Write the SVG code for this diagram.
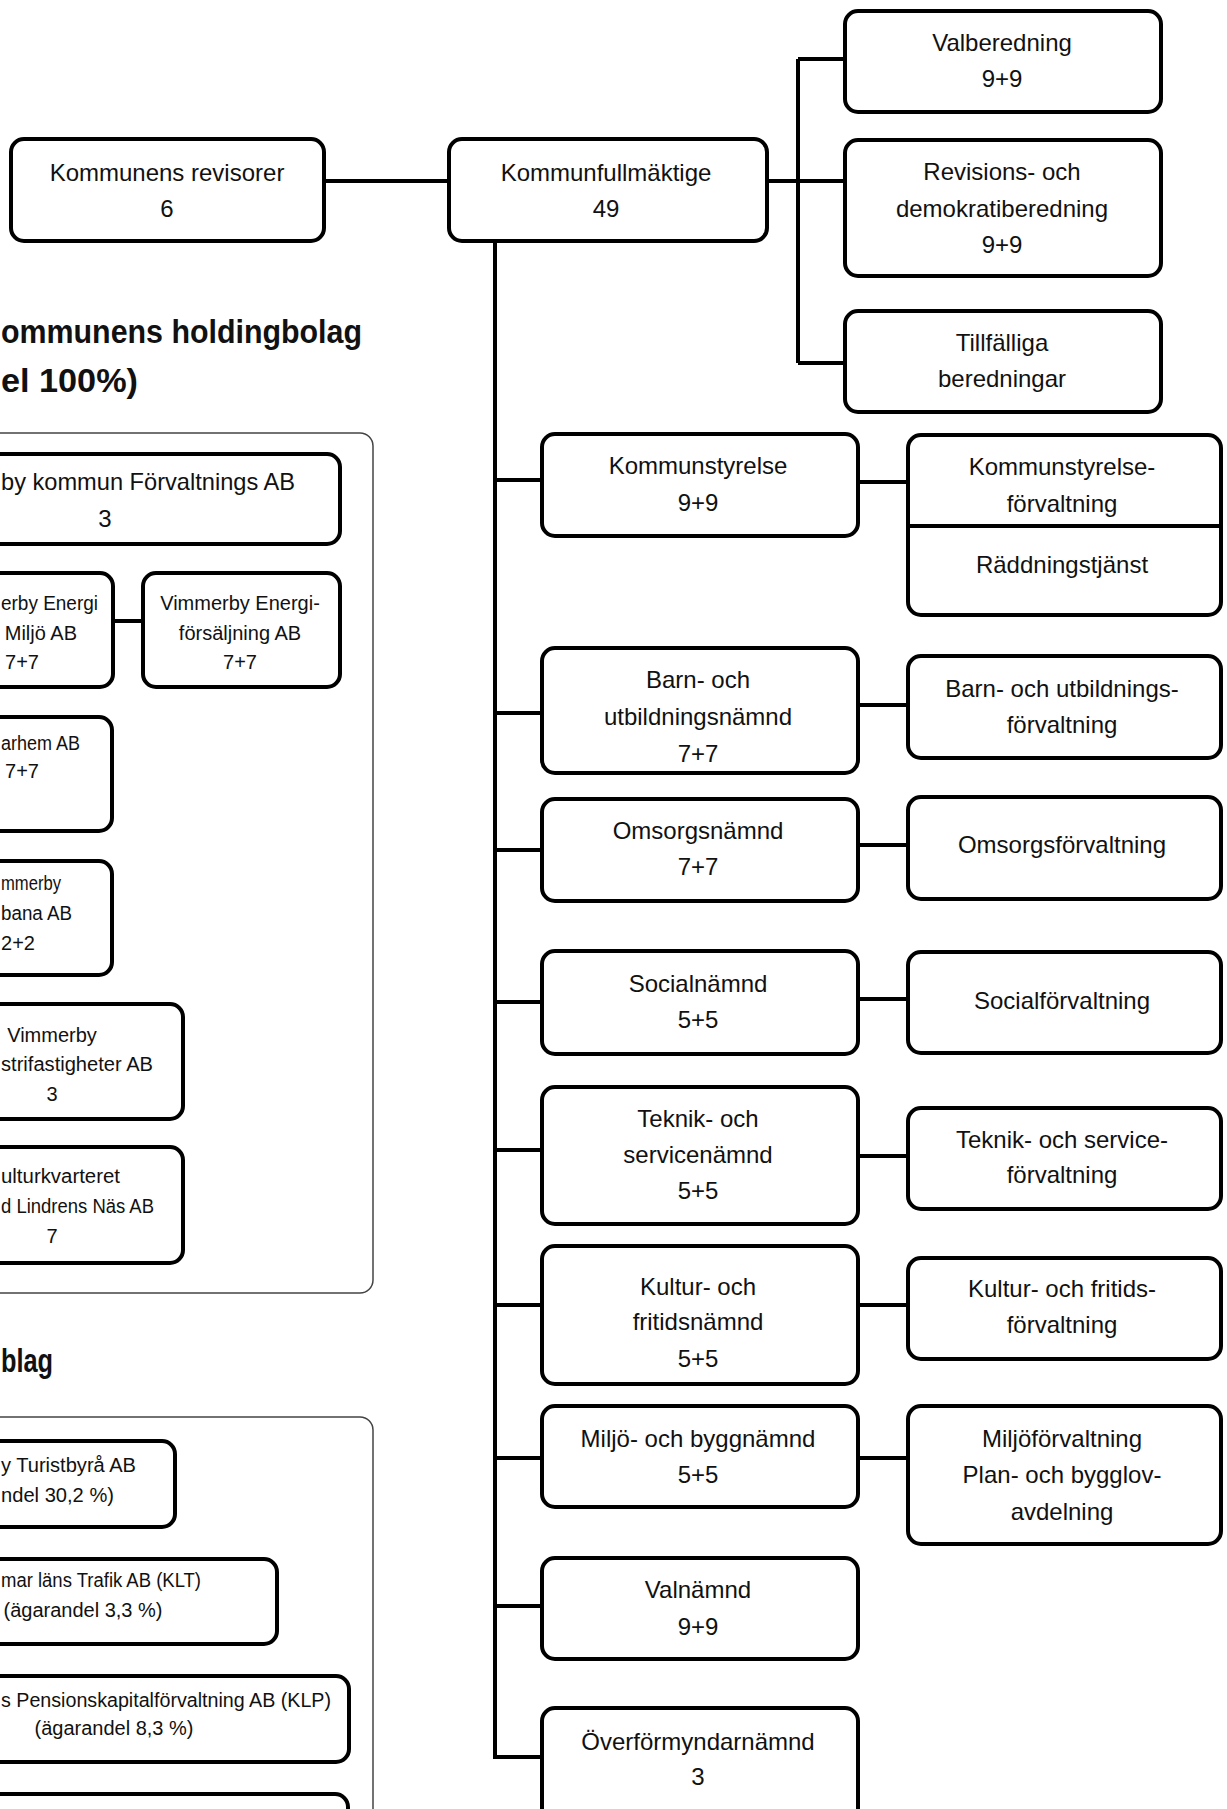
<svg xmlns="http://www.w3.org/2000/svg" width="1227" height="1809" viewBox="0 0 1227 1809">
<style>
.n{fill:#fff;stroke:#000;stroke-width:4}
.c{fill:#fff;stroke:#444;stroke-width:1.5}
.l{fill:none;stroke:#000;stroke-width:4}
text{font-family:"Liberation Sans",Arial,sans-serif;font-size:24px;text-anchor:middle;fill:#111}
.s{font-size:20px}
.e{text-anchor:end}
.b{text-anchor:start}
.h{font-weight:bold;font-size:34px;text-anchor:start}
</style>
<rect width="1227" height="1809" fill="#fff"/>

<!-- containers -->
<g id="holding-container">
<rect class="c" x="-30" y="433" width="403" height="860" rx="13"/>
<text class="h" x="1" y="343" textLength="361" lengthAdjust="spacingAndGlyphs">ommunens holdingbolag</text>
<text class="h" x="1" y="392" textLength="137" lengthAdjust="spacingAndGlyphs">el 100%)</text>
</g>
<g id="delagda-container">
<rect class="c" x="-30" y="1417" width="403" height="450" rx="13"/>
<text class="h" x="1" y="1372" textLength="52" lengthAdjust="spacingAndGlyphs">blag</text>
</g>

<!-- connectors -->
<g id="connectors">
<path class="l" d="M324 181H449"/>
<path class="l" d="M767 181H845M798 59V363M798 59H845M798 363H845"/>
<path class="l" d="M495 243V1757H542"/>
<path class="l" d="M495 480H542M495 713H542M495 850H542M495 1002H542M495 1150H542M495 1305H542M495 1458H542M495 1606H542"/>
<path class="l" d="M858 482H908M858 705H908M858 845H908M858 999H908M858 1156H908M858 1305H908M858 1458H908"/>
<path class="l" d="M113 621H143"/>
</g>

<!-- top -->
<g id="revisorer"><rect class="n" x="11" y="139" width="313" height="102" rx="13"/>
<text x="167" y="181">Kommunens revisorer</text><text x="167" y="217">6</text></g>
<g id="kf"><rect class="n" x="449" y="139" width="318" height="102" rx="13"/>
<text x="606" y="181">Kommunfullmäktige</text><text x="606" y="217">49</text></g>
<g id="valberedning"><rect class="n" x="845" y="11" width="316" height="101" rx="13"/>
<text x="1002" y="51">Valberedning</text><text x="1002" y="87">9+9</text></g>
<g id="revisionsberedning"><rect class="n" x="845" y="140" width="316" height="136" rx="13"/>
<text x="1002" y="180">Revisions- och</text><text x="1002" y="217">demokratiberedning</text><text x="1002" y="253">9+9</text></g>
<g id="tillfalliga"><rect class="n" x="845" y="311" width="316" height="101" rx="13"/>
<text x="1002" y="351">Tillfälliga</text><text x="1002" y="387">beredningar</text></g>

<!-- nämnder -->
<g id="ks"><rect class="n" x="542" y="434" width="316" height="102" rx="13"/>
<text x="698" y="474">Kommunstyrelse</text><text x="698" y="511">9+9</text></g>
<g id="ksf"><rect class="n" x="908" y="435" width="313" height="180" rx="13"/>
<path class="l" d="M908 526H1221"/>
<text x="1062" y="475">Kommunstyrelse-</text><text x="1062" y="512">förvaltning</text><text x="1062" y="573">Räddningstjänst</text></g>

<g id="bun"><rect class="n" x="542" y="648" width="316" height="125" rx="13"/>
<text x="698" y="688">Barn- och</text><text x="698" y="725">utbildningsnämnd</text><text x="698" y="762">7+7</text></g>
<g id="bunf"><rect class="n" x="908" y="656" width="313" height="102" rx="13"/>
<text x="1062" y="697">Barn- och utbildnings-</text><text x="1062" y="733">förvaltning</text></g>

<g id="omsorg"><rect class="n" x="542" y="799" width="316" height="102" rx="13"/>
<text x="698" y="839">Omsorgsnämnd</text><text x="698" y="875">7+7</text></g>
<g id="omsorgf"><rect class="n" x="908" y="797" width="313" height="102" rx="13"/>
<text x="1062" y="853">Omsorgsförvaltning</text></g>

<g id="social"><rect class="n" x="542" y="951" width="316" height="103" rx="13"/>
<text x="698" y="992">Socialnämnd</text><text x="698" y="1028">5+5</text></g>
<g id="socialf"><rect class="n" x="908" y="952" width="313" height="101" rx="13"/>
<text x="1062" y="1009">Socialförvaltning</text></g>

<g id="teknik"><rect class="n" x="542" y="1087" width="316" height="137" rx="13"/>
<text x="698" y="1127">Teknik- och</text><text x="698" y="1163">servicenämnd</text><text x="698" y="1199">5+5</text></g>
<g id="teknikf"><rect class="n" x="908" y="1108" width="313" height="101" rx="13"/>
<text x="1062" y="1148">Teknik- och service-</text><text x="1062" y="1183">förvaltning</text></g>

<g id="kultur"><rect class="n" x="542" y="1246" width="316" height="138" rx="13"/>
<text x="698" y="1295">Kultur- och</text><text x="698" y="1330">fritidsnämnd</text><text x="698" y="1367">5+5</text></g>
<g id="kulturf"><rect class="n" x="908" y="1258" width="313" height="101" rx="13"/>
<text x="1062" y="1297">Kultur- och fritids-</text><text x="1062" y="1333">förvaltning</text></g>

<g id="miljo"><rect class="n" x="542" y="1406" width="316" height="101" rx="13"/>
<text x="698" y="1447">Miljö- och byggnämnd</text><text x="698" y="1483">5+5</text></g>
<g id="miljof"><rect class="n" x="908" y="1406" width="313" height="138" rx="13"/>
<text x="1062" y="1447">Miljöförvaltning</text><text x="1062" y="1483">Plan- och bygglov-</text><text x="1062" y="1520">avdelning</text></g>

<g id="valnamnd"><rect class="n" x="542" y="1558" width="316" height="101" rx="13"/>
<text x="698" y="1598">Valnämnd</text><text x="698" y="1635">9+9</text></g>
<g id="overformyndar"><rect class="n" x="542" y="1708" width="316" height="120" rx="13"/>
<text x="698" y="1750">Överförmyndarnämnd</text><text x="698" y="1785">3</text></g>

<!-- holding companies -->
<g id="forvaltnings-ab"><rect class="n" x="-30" y="454" width="370" height="90" rx="13"/>
<text class="b" x="1" y="490" textLength="294" lengthAdjust="spacingAndGlyphs">by kommun Förvaltnings AB</text><text x="105" y="527">3</text></g>
<g id="energi-miljo"><rect class="n" x="-30" y="573" width="143" height="114" rx="13"/>
<text class="s b" x="1" y="610" textLength="97" lengthAdjust="spacingAndGlyphs">erby Energi</text><text class="s e" x="77" y="640">Miljö AB</text><text class="s" x="22" y="669">7+7</text></g>
<g id="energiforsaljning"><rect class="n" x="143" y="573" width="197" height="114" rx="13"/>
<text class="s" x="240" y="610">Vimmerby Energi-</text><text class="s" x="240" y="640">försäljning AB</text><text class="s" x="240" y="669">7+7</text></g>
<g id="vimarhem"><rect class="n" x="-30" y="717" width="142" height="114" rx="13"/>
<text class="s b" x="1" y="750" textLength="79" lengthAdjust="spacingAndGlyphs">arhem AB</text><text class="s" x="22" y="778">7+7</text></g>
<g id="bana"><rect class="n" x="-30" y="861" width="142" height="114" rx="13"/>
<text class="s b" x="1" y="890" textLength="60" lengthAdjust="spacingAndGlyphs">mmerby</text><text class="s b" x="1" y="920" textLength="71" lengthAdjust="spacingAndGlyphs">bana AB</text><text class="s" x="18" y="950">2+2</text></g>
<g id="industrifastigheter"><rect class="n" x="-30" y="1004" width="213" height="115" rx="13"/>
<text class="s" x="52" y="1042">Vimmerby</text><text class="s b" x="1" y="1071" textLength="152" lengthAdjust="spacingAndGlyphs">strifastigheter AB</text><text class="s" x="52" y="1101">3</text></g>
<g id="kulturkvarteret"><rect class="n" x="-30" y="1147" width="213" height="116" rx="13"/>
<text class="s b" x="1" y="1183" textLength="119" lengthAdjust="spacingAndGlyphs">ulturkvarteret</text><text class="s b" x="1" y="1213" textLength="153" lengthAdjust="spacingAndGlyphs">d Lindrens Näs AB</text><text class="s" x="52" y="1243">7</text></g>

<!-- partly owned -->
<g id="turistbyra"><rect class="n" x="-30" y="1441" width="205" height="86" rx="13"/>
<text class="s b" x="1" y="1472" textLength="135" lengthAdjust="spacingAndGlyphs">y Turistbyrå AB</text><text class="s b" x="1" y="1502" textLength="113" lengthAdjust="spacingAndGlyphs">ndel 30,2 %)</text></g>
<g id="klt"><rect class="n" x="-30" y="1559" width="307" height="85" rx="13"/>
<text class="s b" x="1" y="1587" textLength="200" lengthAdjust="spacingAndGlyphs">mar läns Trafik AB (KLT)</text><text class="s" x="83" y="1617">(ägarandel 3,3 %)</text></g>
<g id="klp"><rect class="n" x="-30" y="1676" width="379" height="86" rx="13"/>
<text class="s b" x="1" y="1707" textLength="330" lengthAdjust="spacingAndGlyphs">s Pensionskapitalförvaltning AB (KLP)</text><text class="s" x="114" y="1735">(ägarandel 8,3 %)</text></g>
<g id="bolag4"><rect class="n" x="-30" y="1794" width="378" height="80" rx="13"/></g>
</svg>
